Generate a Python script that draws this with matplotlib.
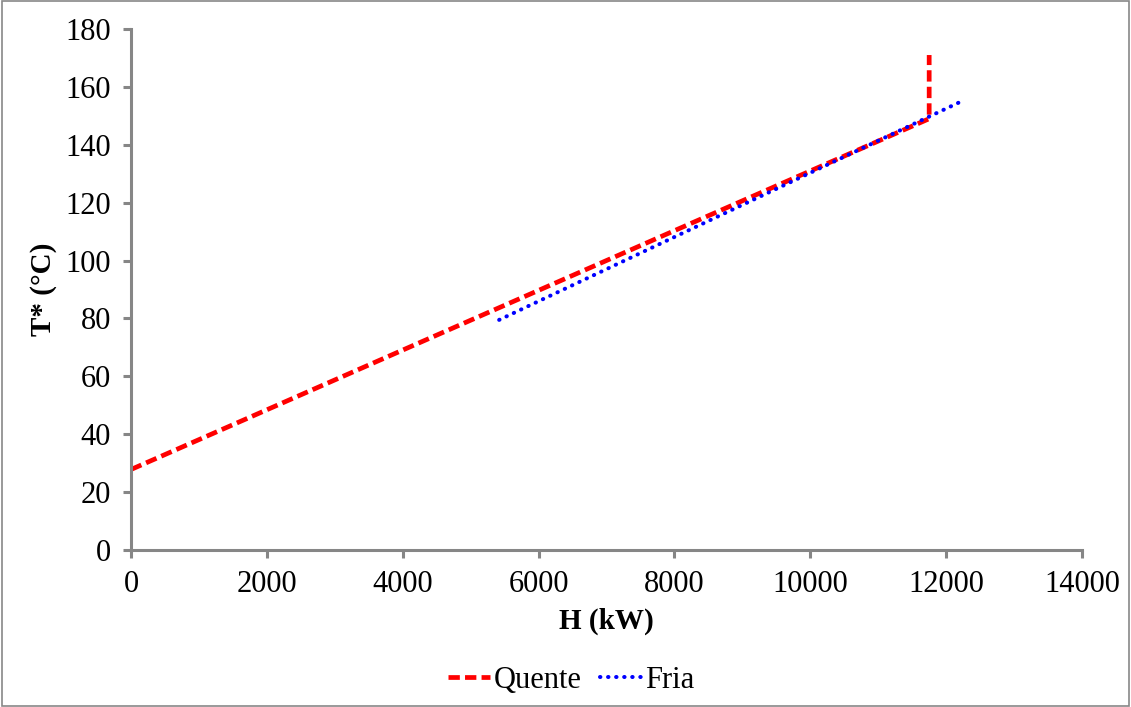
import matplotlib.pyplot as plt
from matplotlib.patches import Rectangle

# composite curves (H in kW, T* in C)
h_quente = [0, 11750, 11750]
t_quente = [27.8, 149, 171]
h_fria = [5420, 12180]
t_fria = [79.5, 154.5]

plt.rcParams['font.family'] = ['Liberation Serif', 'DejaVu Serif']

fig = plt.figure(figsize=(11.31, 7.07), dpi=100)
ax = fig.add_axes([0.1158, 0.2221, 0.8409, 0.7369])

ax.plot(h_quente, t_quente, color='#ff0000', lw=3.4, ls=(0, (2.4, 1.1)),
        label='Quente')
ax.plot(h_fria, t_fria, color='#0000ff', lw=2.9, ls=(0, (0.1, 1.9)),
        dash_capstyle='round', label='Fria')

ax.set_xlim(0, 14000)
ax.set_ylim(0, 180)
ax.set_xticks(range(0, 14001, 2000))
ax.set_yticks(range(0, 181, 20))

for s in ['top', 'right']:
    ax.spines[s].set_visible(False)
for s in ['left', 'bottom']:
    ax.spines[s].set_color('#868686')
    ax.spines[s].set_linewidth(2.2)
ax.tick_params(axis='both', colors='#868686', width=2.2, length=5.5,
               labelcolor='black', labelsize=22, pad=9)

ax.set_xlabel('H (kW)', fontsize=21, fontweight='bold', labelpad=6)
ax.set_ylabel('T* (°C)', fontsize=21, fontweight='bold', labelpad=6)

fig.legend(loc='center', bbox_to_anchor=(0.505, 0.038), ncol=2, frameon=False,
           fontsize=22, handlelength=1.4, handletextpad=0.1, columnspacing=0.6)

fig.patches.append(Rectangle((0.002, 0.002), 0.996, 0.996, transform=fig.transFigure,
                             fill=False, edgecolor='#888888', lw=1.2))

fig.savefig('out.png', dpi=100)
